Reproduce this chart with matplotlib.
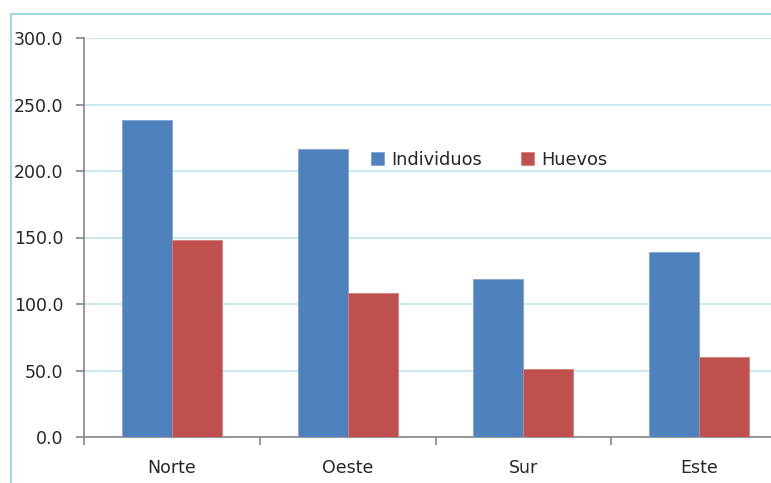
import numpy as np
import matplotlib
matplotlib.use("Agg")
import matplotlib.pyplot as plt
from matplotlib.patches import Rectangle

# Data
regiones = ["Norte", "Oeste", "Sur", "Este"]
individuos = [238.0, 216.5, 119.0, 139.0]
huevos = [148.0, 108.0, 51.5, 60.0]
y_ticks = [0, 50, 100, 150, 200, 250, 300]

W, H = 771, 483
fig = plt.figure(figsize=(W / 100, H / 100), dpi=100)
plt.rcParams['font.family'] = ['DejaVu Sans']

# outer chart border (right and bottom edges fall outside the crop)
fig.patches.append(Rectangle((11 / W, -0.1), 1.2, (H - 14) / H + 0.1,
                             transform=fig.transFigure, fill=False,
                             edgecolor='#92cfe0', linewidth=1.2))

ax = fig.add_axes([84 / W, 46 / H, (787 - 84) / W, (437 - 38) / H])

x = np.arange(len(regiones))
width = 0.284
ax.bar(x - width / 2, individuos, width, color='#4f81bd', label='Individuos',
       edgecolor='#7fa3d1', linewidth=0.6, zorder=3)
ax.bar(x + width / 2, huevos, width, color='#c0504d', label='Huevos',
       edgecolor='#d47f7d', linewidth=0.6, zorder=3)

ax.set_xlim(-0.5, len(regiones) - 0.5)
ax.set_ylim(0, 300)
ax.set_yticks(y_ticks)
ax.set_yticklabels([f"{v:.1f}" for v in y_ticks])
ax.yaxis.grid(True, color='#c6e6f0', linewidth=1.3, zorder=0)
ax.set_axisbelow(True)

ax.set_xticks(x)
ax.set_xticklabels(regiones)
ax.set_xticks(np.arange(len(regiones) + 1) - 0.5, minor=True)
ax.tick_params(axis='x', which='major', length=0, pad=16, labelsize=12.5, labelcolor='#262626')
ax.tick_params(axis='x', which='minor', length=6, width=1.2, color='#868686')
ax.tick_params(axis='y', length=6, width=1.2, color='#868686', pad=9,
               labelsize=12.5, labelcolor='#262626')

for side in ['top', 'right']:
    ax.spines[side].set_visible(False)
for side in ['left', 'bottom']:
    ax.spines[side].set_color('#868686')
    ax.spines[side].set_linewidth(1.2)

leg = ax.legend(loc='center', bbox_to_anchor=(489 / W, (H - 160) / H),
                bbox_transform=fig.transFigure, ncol=2, frameon=False,
                handlelength=0.75, handleheight=0.75, handletextpad=0.4,
                columnspacing=2.2, fontsize=12.8)
for t in leg.get_texts():
    t.set_color('#262626')

fig.savefig("out.png", dpi=100)
